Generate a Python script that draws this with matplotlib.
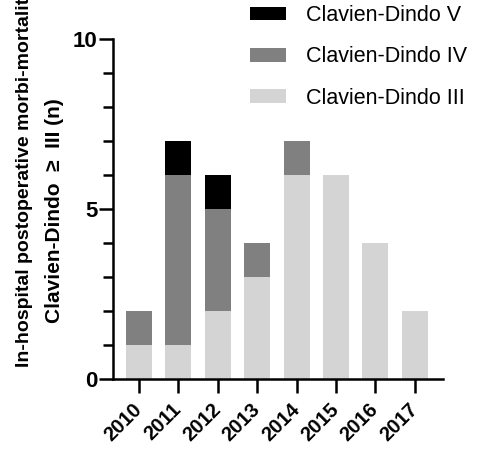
import numpy as np
import matplotlib
matplotlib.use('Agg')
import matplotlib.pyplot as plt
from matplotlib.ticker import MultipleLocator

plt.rcParams['font.family'] = ['Liberation Sans', 'DejaVu Sans']

years = ['2010', '2011', '2012', '2013', '2014', '2015', '2016', '2017']
cd_iii = [1, 1, 2, 3, 6, 6, 4, 2]
cd_iv = [1, 5, 3, 1, 1, 0, 0, 0]
cd_v = [0, 1, 1, 0, 0, 0, 0, 0]

col_iii = '#d4d4d4'
col_iv = '#808080'
col_v = '#000000'

fig = plt.figure(figsize=(4.78, 4.53), dpi=100)
ax = fig.add_axes([113/478, 1 - 379/453, (443 - 113)/478, (379 - 39)/453])

x = np.arange(len(years))
w = 0.66
b1 = ax.bar(x, cd_iii, w, color=col_iii, label='Clavien-Dindo III')
b2 = ax.bar(x, cd_iv, w, bottom=cd_iii, color=col_iv, label='Clavien-Dindo IV')
bottom_v = np.array(cd_iii) + np.array(cd_iv)
b3 = ax.bar(x, cd_v, w, bottom=bottom_v, color=col_v, label='Clavien-Dindo V')

ax.set_xlim(-0.66, 7.72)
ax.set_ylim(0, 10)
ax.set_yticks([0, 5, 10])
ax.yaxis.set_minor_locator(MultipleLocator(1))
ax.set_yticklabels(['0', '5', '10'], fontsize=16, fontweight='bold')
ax.set_xticks(x)
ax.set_xticklabels(years, rotation=45, ha='right', va='center',
                   rotation_mode='anchor', fontsize=14.5, fontweight='bold')

for s in ['top', 'right']:
    ax.spines[s].set_visible(False)
for s in ['left', 'bottom']:
    ax.spines[s].set_linewidth(1.8)
ax.tick_params(axis='y', which='major', length=10, width=1.8, pad=1)
ax.tick_params(axis='y', which='minor', length=7, width=1.8)
ax.tick_params(axis='x', which='major', length=10, width=1.8, pad=10)

# y label in two lines, first one runs off the top like the original
fig.text(25/478, 1 - 367/453, 'In-hospital postoperative morbi-mortality',
         rotation=90, ha='center', va='bottom', fontsize=14, fontweight='bold')
fig.text(55/478, 1 - 323/453, 'Clavien-Dindo  \u2265  III (n)',
         rotation=90, ha='center', va='bottom', fontsize=15, fontweight='bold')

fig.legend(handles=[b3, b2, b1], loc='upper left',
           bbox_to_anchor=(250/478, 1 - 5/453), frameon=False,
           fontsize=15.5, handlelength=1.65, handleheight=0.6,
           handletextpad=0.93, labelspacing=0.95,
           borderpad=0, borderaxespad=0)

plt.savefig('out.png', dpi=100)
